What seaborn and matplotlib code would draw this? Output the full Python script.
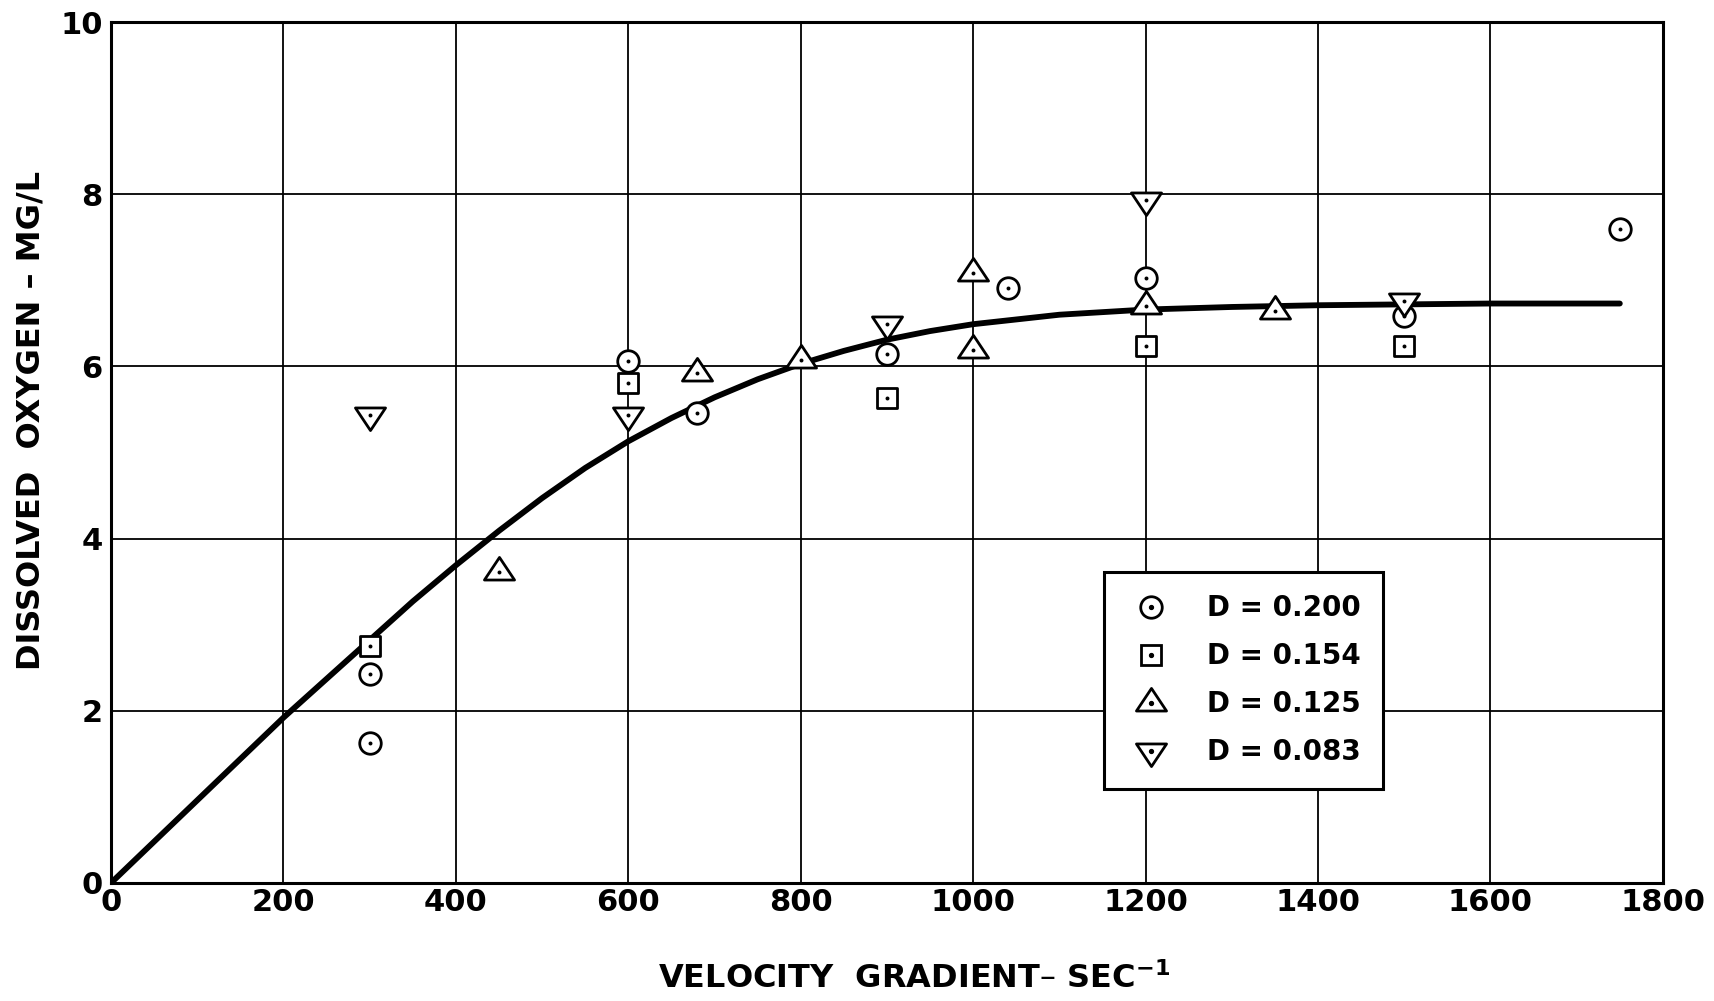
import numpy as np
import pandas as pd
import matplotlib
matplotlib.use("Agg")
import matplotlib.pyplot as plt
from matplotlib.path import Path
from matplotlib.lines import Line2D
from matplotlib.legend_handler import HandlerTuple
import seaborn as sns

# ---- data ----
x_d200 = [300, 300, 600, 680, 900, 1040, 1200, 1500, 1750]
y_d200 = [2.43, 1.63, 6.06, 5.46, 6.14, 6.91, 7.03, 6.58, 7.59]

x_d154 = [300, 600, 900, 1200, 1500]
y_d154 = [2.75, 5.81, 5.63, 6.24, 6.24]

x_d125 = [450, 680, 800, 1000, 1000, 1200, 1350]
y_d125 = [3.61, 5.92, 6.07, 7.09, 6.19, 6.70, 6.64]

x_d083 = [300, 600, 900, 1200, 1500]
y_d083 = [5.44, 5.44, 6.49, 7.93, 6.76]

curve_x = [0, 100, 200, 300, 350, 400, 450, 500, 550, 600, 650, 700, 750,
           800, 850, 900, 950, 1000, 1100, 1200, 1300, 1400, 1500, 1600,
           1700, 1750]
curve_y = [0.0, 0.96, 1.92, 2.82, 3.27, 3.69, 4.09, 4.47, 4.82, 5.13, 5.40,
           5.64, 5.85, 6.03, 6.18, 6.31, 6.41, 6.49, 6.60, 6.66, 6.69, 6.71,
           6.72, 6.73, 6.73, 6.73]

legend_labels = ["D = 0.200", "D = 0.154", "D = 0.125", "D = 0.083"]
x_ticks = [0, 200, 400, 600, 800, 1000, 1200, 1400, 1600, 1800]
y_ticks = [0, 2, 4, 6, 8, 10]
x_label = "VELOCITY  GRADIENT\u2013 SEC$^{-1}$"
y_label = "DISSOLVED  OXYGEN \u2013 MG/L"

# ---- style ----
sns.set_style("white")
plt.rcParams["font.family"] = ["DejaVu Sans"]
plt.rcParams["font.weight"] = "bold"
plt.rcParams["text.color"] = "black"
plt.rcParams["xtick.color"] = "black"
plt.rcParams["ytick.color"] = "black"
plt.rcParams["axes.labelcolor"] = "black"

fig = plt.figure(figsize=(17.14, 10.01), dpi=100)
ax = fig.add_axes([0.0648, 0.118, 0.9054, 0.860])

# marker shapes
tri_up = Path([(-1, -0.5), (1, -0.5), (0, 1), (-1, -0.5)],
              [Path.MOVETO, Path.LINETO, Path.LINETO, Path.CLOSEPOLY])
tri_dn = Path([(-1, 0.5), (1, 0.5), (0, -1), (-1, 0.5)],
              [Path.MOVETO, Path.LINETO, Path.LINETO, Path.CLOSEPOLY])

series = [
    (x_d200, y_d200, "o", 240),
    (x_d154, y_d154, "s", 215),
    (x_d125, y_d125, tri_up, 470),
    (x_d083, y_d083, tri_dn, 470),
]

# curve
sns.lineplot(x=curve_x, y=curve_y, color="black", linewidth=4.2, ax=ax,
             zorder=3, estimator=None, sort=False)

for xs, ys, mk, s in series:
    df = pd.DataFrame({"x": xs, "y": ys})
    sns.scatterplot(data=df, x="x", y="y", marker=mk, s=s, facecolor="white",
                    edgecolor="black", linewidth=2.0, ax=ax, zorder=4)
    sns.scatterplot(data=df, x="x", y="y", marker="o", s=8, color="black",
                    edgecolor="black", linewidth=0, ax=ax, zorder=5)

ax.set_xlim(0, 1800)
ax.set_ylim(0, 10)
ax.set_xticks(x_ticks)
ax.set_yticks(y_ticks)
ax.set_xticklabels([str(v) for v in x_ticks], fontsize=22, fontweight="bold")
ax.set_yticklabels([str(v) for v in y_ticks], fontsize=22, fontweight="bold")
ax.tick_params(axis="both", length=0, colors="black")
ax.tick_params(axis="x", pad=4)
ax.tick_params(axis="y", pad=6)
ax.grid(True, color="black", linewidth=1.3)
ax.set_axisbelow(True)
for sp in ax.spines.values():
    sp.set_color("black")
    sp.set_linewidth(2.2)
ax.set_xlabel("")
ax.set_ylabel("")

fig.text(0.533, 0.022, x_label, ha="center", va="center", fontsize=23,
         fontweight="bold", color="black")
fig.text(0.018, 0.58, y_label, ha="center", va="center", rotation=90,
         fontsize=23, fontweight="bold", color="black")

# legend
handles = []
for _, _, mk, s in series:
    ms = np.sqrt(s)
    h1 = Line2D([], [], linestyle="none", marker=mk, markersize=ms,
                markerfacecolor="white", markeredgecolor="black",
                markeredgewidth=2.0)
    h2 = Line2D([], [], linestyle="none", marker="o", markersize=2.8,
                markerfacecolor="black", markeredgecolor="black")
    handles.append((h1, h2))

leg = ax.legend(handles, legend_labels, handler_map={tuple: HandlerTuple(ndivide=1)},
                loc="upper left", bbox_to_anchor=(0.640, 0.361),
                borderaxespad=0, frameon=True, fancybox=False,
                prop={"size": 20, "weight": "bold"}, borderpad=0.8,
                labelspacing=0.72, handlelength=1.8, handletextpad=1.1)
leg.get_frame().set_edgecolor("black")
leg.get_frame().set_linewidth(2.2)
leg.get_frame().set_facecolor("white")
leg.get_frame().set_alpha(1)
leg.set_zorder(10)
for t in leg.get_texts():
    t.set_color("black")

fig.savefig("out.png", dpi=100, facecolor="white")
